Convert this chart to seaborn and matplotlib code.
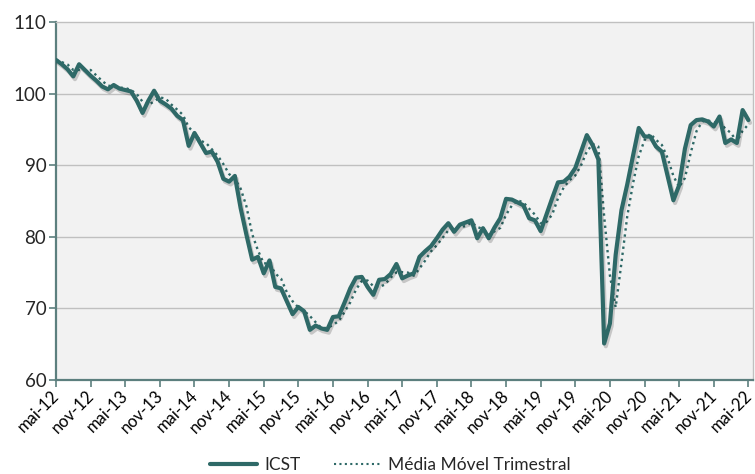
import numpy as np
import pandas as pd
import matplotlib
matplotlib.use("Agg")
import matplotlib.pyplot as plt
import matplotlib.patheffects as pe
from matplotlib.lines import Line2D
import seaborn as sns

# ---- data (monthly, mai-12 .. mai-22) ----
icst = [104.7, 104.1, 103.4, 102.4, 104.1, 103.3, 102.5, 101.8, 101.0, 100.6,
        101.2, 100.7, 100.5, 100.3, 99.0, 97.3, 99.0, 100.4, 99.0, 98.5,
        97.9, 96.9, 96.3, 92.7, 94.5, 93.1, 91.7, 91.9, 90.5, 88.1,
        87.7, 88.5, 84.0, 80.3, 76.8, 77.2, 74.9, 76.7, 73.0, 72.8,
        71.0, 69.2, 70.2, 69.6, 67.0, 67.6, 67.2, 67.0, 68.8, 68.9,
        70.8, 72.8, 74.3, 74.4, 73.0, 71.9, 74.0, 74.1, 74.8, 76.2,
        74.2, 74.6, 74.9, 77.2, 78.0, 78.7, 79.8, 81.0, 81.9, 80.7,
        81.7, 82.0, 82.3, 79.8, 81.2, 79.8, 81.3, 82.6, 85.3, 85.2,
        84.8, 84.4, 82.6, 82.3, 80.8, 83.1, 85.4, 87.6, 87.7, 88.4,
        89.6, 91.9, 94.2, 92.8, 90.8, 65.1, 67.9, 77.5, 83.7, 87.3,
        91.3, 95.2, 94.0, 94.0, 92.6, 91.9, 88.5, 85.1, 87.2, 92.3,
        95.6, 96.3, 96.4, 96.1, 95.4, 96.8, 93.1, 93.6, 93.1, 97.7,
        96.3]
tick_labels = ["mai-12", "nov-12", "mai-13", "nov-13", "mai-14", "nov-14",
               "mai-15", "nov-15", "mai-16", "nov-16", "mai-17", "nov-17",
               "mai-18", "nov-18", "mai-19", "nov-19", "mai-20", "nov-20",
               "mai-21", "nov-21", "mai-22"]
y_ticks = [60, 70, 80, 90, 100, 110]

df = pd.DataFrame({"mes": np.arange(len(icst)), "ICST": icst})
df["MM3"] = df["ICST"].rolling(3, min_periods=1).mean()

teal = "#2E6967"
axis_col = "#5C7F7E"
grid_col = "#C0C0C0"

sns.set_theme(style="white")
plt.rcParams["font.family"] = ["Lato", "DejaVu Sans"]

fig = plt.figure(figsize=(7.55, 4.74), dpi=100)
ax = fig.add_axes([56 / 755, 1 - 380 / 474, 697 / 755, 358 / 474])
ax.set_facecolor("#F2F2F2")

sns.lineplot(data=df, x="mes", y="MM3", ax=ax, color=teal, lw=1.7,
             linestyle=(0, (1, 1.6)), zorder=3)
sns.lineplot(data=df, x="mes", y="ICST", ax=ax, color=teal, lw=3.0, zorder=4,
             path_effects=[pe.SimpleLineShadow(offset=(1.2, -2.0), alpha=0.18,
                                                shadow_color="black"),
                           pe.Normal()])

ax.set_xlim(0, 120.8)
ax.set_ylim(60, 110)
ax.set_yticks(y_ticks)
ax.set_yticklabels([str(v) for v in y_ticks], fontsize=13.5)
tick_pos = np.arange(0, 121, 6)
ax.set_xticks(tick_pos)
ax.set_xticklabels([])
for pos, lbl in zip(tick_pos, tick_labels):
    ax.annotate(lbl, xy=(pos, 0), xycoords=("data", "axes fraction"),
                xytext=(-3.5, -5.5), textcoords="offset points",
                rotation=45, ha="right", va="top", rotation_mode="anchor",
                fontsize=12, color="black", annotation_clip=False)
ax.set_xlabel("")
ax.set_ylabel("")

for v in y_ticks[1:-1]:
    ax.axhline(v, color=grid_col, lw=1.0, zorder=1)

for s in ["top", "right"]:
    ax.spines[s].set_color(grid_col)
    ax.spines[s].set_linewidth(1.0)
for s in ["left", "bottom"]:
    ax.spines[s].set_color(axis_col)
    ax.spines[s].set_linewidth(1.6)

ax.tick_params(axis="x", which="major", direction="out", length=5, width=1.2,
               color=axis_col, pad=2, bottom=True)
ax.tick_params(axis="y", which="major", direction="out", length=5, width=1.2,
               color=axis_col, pad=2, left=True)

handles = [Line2D([0], [0], color=teal, lw=3.0),
           Line2D([0], [0], color=teal, lw=1.5, linestyle=(0, (1, 1.6)))]
fig.legend(handles, ["ICST", "Média Móvel Trimestral"], loc="lower center",
           bbox_to_anchor=(0.517, -0.03), ncol=2, frameon=False, fontsize=12.5,
           handlelength=2.7, columnspacing=1.9, handletextpad=0.45)

fig.savefig("out.png", dpi=100, facecolor="white")
